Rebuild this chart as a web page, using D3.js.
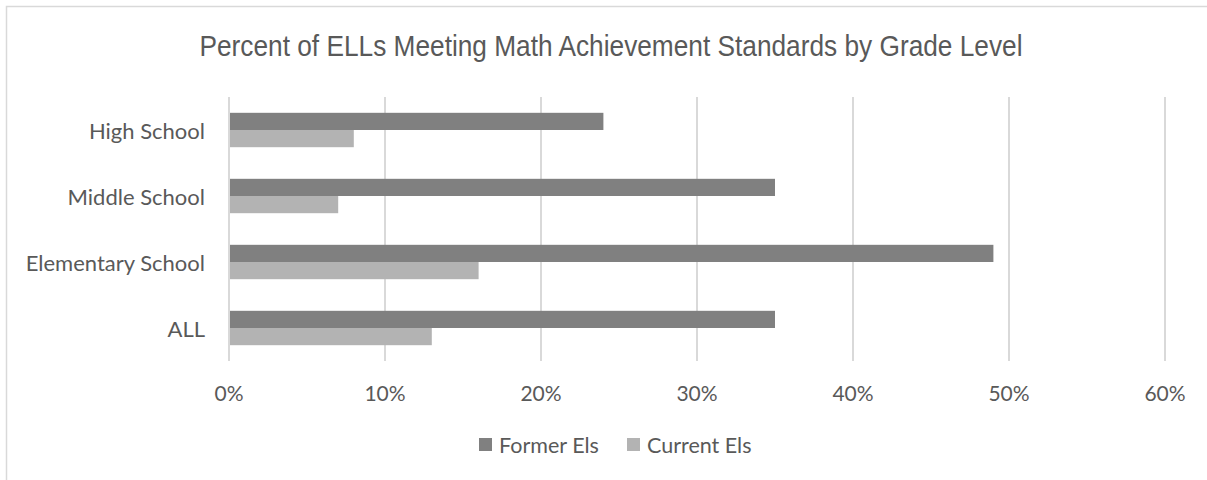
<!DOCTYPE html>
<html>
<head>
<meta charset="utf-8">
<script src="https://cdn.jsdelivr.net/npm/d3@7"></script>
<style>
  body { margin: 0; background: #fff; }
  svg { display: block; }
  text { fill: #595959; }
</style>
</head>
<body>
<svg id="chart" width="1207" height="480"></svg>
<script>
const title = 'Percent of ELLs Meeting Math Achievement Standards by Grade Level'
const categories = ['High School', 'Middle School', 'Elementary School', 'ALL']
const seriesNames = ['Former Els', 'Current Els']
const formerEls = [24, 35, 49, 35]
const currentEls = [8, 7, 16, 13]
const xTicks = [0, 10, 20, 30, 40, 50, 60]

const colors = ['#808080', '#b3b3b3']
const labelFont = 'Lato, "Open Sans", sans-serif'

const margin = {top: 97, right: 42, bottom: 119, left: 229}
const width = 1207, height = 480

const svg = d3.select('#chart')

// outer chart border
svg.append('rect')
  .attr('x', 6.5).attr('y', 6.5)
  .attr('width', 1220).attr('height', 500)
  .attr('fill', 'none')
  .attr('stroke', '#d9d9d9')
  .attr('stroke-width', 1.5)

const x = d3.scaleLinear().domain([0, 60]).range([margin.left, width - margin.right])
const y = d3.scaleBand().domain(categories)
  .range([margin.top, height - margin.bottom])
  .paddingInner(0.479).paddingOuter(0.2395)
const ySub = d3.scaleBand().domain(seriesNames).range([0, y.bandwidth()])

// gridlines
svg.append('g').attr('class', 'grid')
  .selectAll('line')
  .data(xTicks)
  .join('line')
  .attr('x1', d => x(d)).attr('x2', d => x(d))
  .attr('y1', margin.top).attr('y2', height - margin.bottom)
  .attr('stroke', '#d9d9d9')
  .attr('stroke-width', 2)

const rows = categories.map((c, i) => ({cat: c, vals: [formerEls[i], currentEls[i]]}))

svg.append('g').attr('class', 'bars')
  .selectAll('g')
  .data(rows)
  .join('g')
  .attr('transform', d => `translate(0,${y(d.cat)})`)
  .selectAll('rect')
  .data(d => d.vals.map((v, j) => ({name: seriesNames[j], v, j})))
  .join('rect')
  .attr('x', x(0) + 1)
  .attr('y', d => ySub(d.name))
  .attr('width', d => x(d.v) - x(0) - 1)
  .attr('height', ySub.bandwidth())
  .attr('fill', d => colors[d.j])

// category labels
svg.append('g')
  .selectAll('text')
  .data(categories)
  .join('text')
  .attr('x', 205)
  .attr('y', d => y(d) + y.bandwidth() / 2)
  .attr('text-anchor', 'end')
  .attr('dominant-baseline', 'central')
  .style('font-family', labelFont)
  .style('font-size', '22px')
  .text(d => d)

// x tick labels
svg.append('g')
  .selectAll('text')
  .data(xTicks)
  .join('text')
  .attr('x', d => x(d))
  .attr('y', 392)
  .attr('text-anchor', 'middle')
  .attr('dominant-baseline', 'central')
  .style('font-family', labelFont)
  .style('font-size', '21px')
  .text(d => d + '%')

// title (narrow face emulated by squeezing to the measured width)
svg.append('text')
  .attr('x', 611)
  .attr('y', 56)
  .attr('text-anchor', 'middle')
  .attr('textLength', 823)
  .attr('lengthAdjust', 'spacingAndGlyphs')
  .style('font-family', '"Liberation Sans", Arial, sans-serif')
  .style('font-size', '30px')
  .text(title)

// legend
const legendX = [479, 627]
const legend = svg.append('g').selectAll('g')
  .data(seriesNames)
  .join('g')
  .attr('transform', (d, i) => `translate(${legendX[i]},438)`)
legend.append('rect')
  .attr('width', 13).attr('height', 13)
  .attr('fill', (d, i) => colors[i])
legend.append('text')
  .attr('x', 20).attr('y', 7)
  .attr('dominant-baseline', 'central')
  .style('font-family', labelFont)
  .style('font-size', '21.5px')
  .text(d => d)
</script>
</body>
</html>
